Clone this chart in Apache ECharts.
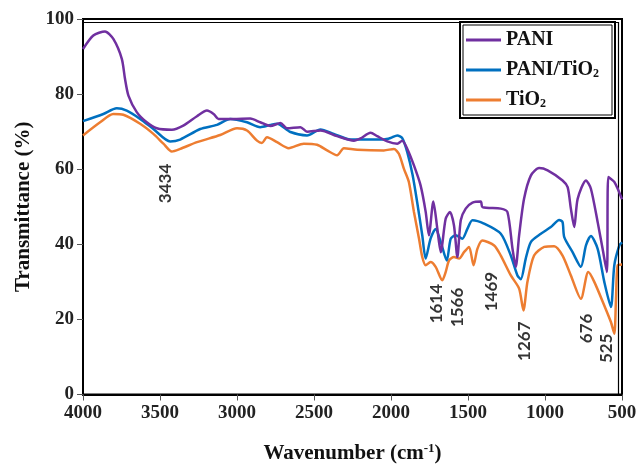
<!DOCTYPE html>
<html>
<head>
<meta charset="utf-8">
<script src="https://cdn.jsdelivr.net/npm/echarts@6/dist/echarts.min.js"></script>
<style>
  html, body { margin: 0; padding: 0; background: #fff; }
  #chart { width: 644px; height: 469px; }
</style>
</head>
<body>
<div id="chart"></div>
<script>
// FTIR spectra: [wavenumber (cm-1), transmittance (%)]
const pani = [
  [4000, 92.0], [3933, 95.6], [3857, 96.7], [3803, 94.7], [3748, 89.4], [3727, 84.0],
  [3705, 79.6], [3651, 75.2], [3586, 72.5], [3521, 70.9], [3423, 70.5], [3349, 71.6],
  [3260, 74.1], [3195, 75.6], [3152, 74.7], [3120, 73.4], [3022, 73.4], [2914, 73.5],
  [2849, 72.5], [2783, 71.5], [2718, 72.3], [2675, 70.9], [2588, 71.2], [2545, 70.0],
  [2458, 70.3], [2350, 68.8], [2241, 67.6], [2198, 68.2], [2133, 69.7], [2090, 68.8],
  [2024, 67.4], [1959, 66.8], [1927, 67.6], [1894, 65.4], [1851, 61.0], [1808, 55.7],
  [1775, 48.7], [1754, 42.4], [1725, 51.4], [1699, 44.1], [1677, 37.9], [1645, 46.8],
  [1617, 48.6], [1591, 45.0], [1569, 36.6], [1547, 46.4], [1515, 49.5], [1471, 51.1],
  [1417, 51.4], [1406, 49.9], [1287, 49.5], [1244, 48.6], [1211, 38.8], [1190, 34.0],
  [1168, 42.4], [1136, 52.1], [1092, 58.3], [1038, 60.3], [983, 59.7], [886, 57.0],
  [853, 55.2], [832, 49.5], [810, 44.6], [788, 52.1], [734, 57.0], [702, 54.8],
  [658, 45.9], [626, 38.8], [598, 32.6], [589, 57.9], [550, 56.6], [500, 52.0]
];
const paniTiO2 = [
  [4000, 72.8], [3868, 74.7], [3781, 76.2], [3716, 75.6], [3629, 73.4], [3543, 70.7],
  [3434, 67.4], [3369, 67.9], [3239, 70.7], [3130, 71.8], [3044, 73.4], [2935, 72.5],
  [2849, 71.2], [2783, 71.8], [2740, 72.1], [2653, 69.9], [2545, 69.0], [2458, 70.6],
  [2372, 69.4], [2263, 67.9], [2154, 67.9], [2046, 67.9], [2003, 68.3], [1959, 69.0],
  [1927, 68.3], [1894, 64.5], [1860, 58.5], [1830, 51.2], [1797, 42.4], [1775, 36.2],
  [1743, 41.5], [1710, 44.1], [1677, 40.6], [1638, 35.7], [1612, 41.5], [1580, 42.4],
  [1537, 41.5], [1504, 44.1], [1471, 46.4], [1396, 45.5], [1287, 42.8], [1222, 37.0],
  [1179, 31.7], [1157, 30.7], [1125, 36.2], [1092, 40.6], [1027, 42.8], [962, 44.6],
  [908, 46.5], [886, 45.9], [875, 41.9], [821, 37.9], [767, 34.0], [734, 39.7],
  [702, 42.2], [658, 38.8], [615, 30.0], [572, 23.3], [550, 34.4], [517, 39.7],
  [500, 40.5]
];
const tiO2 = [
  [4000, 69.0], [3889, 72.5], [3803, 74.7], [3738, 74.5], [3629, 72.1], [3543, 69.4],
  [3478, 66.8], [3423, 64.7], [3369, 65.4], [3260, 67.2], [3109, 69.1], [3000, 70.9],
  [2935, 70.3], [2870, 67.6], [2838, 67.0], [2805, 68.5], [2740, 67.2], [2664, 65.6],
  [2567, 66.8], [2480, 66.5], [2415, 65.0], [2350, 63.7], [2306, 65.6], [2219, 65.2],
  [2046, 65.0], [1981, 65.4], [1949, 64.1], [1916, 60.1], [1884, 56.6], [1851, 48.6],
  [1818, 41.5], [1797, 36.6], [1775, 34.4], [1743, 35.3], [1710, 34.0], [1667, 30.4],
  [1645, 32.6], [1623, 35.7], [1591, 36.6], [1558, 36.2], [1526, 37.9], [1493, 39.3],
  [1464, 34.4], [1439, 38.8], [1406, 41.0], [1330, 39.7], [1287, 37.0], [1222, 31.7],
  [1168, 28.2], [1140, 22.4], [1114, 30.0], [1071, 37.0], [1005, 39.3], [940, 39.5],
  [886, 37.0], [832, 31.7], [767, 25.5], [719, 32.6], [680, 30.0], [615, 23.7],
  [572, 19.3], [550, 16.2], [539, 25.5], [528, 34.4], [500, 34.6]
];

// Band assignments written beside the troughs (text, anchor in data space)
const bandLabels = ['3434', '1614', '1566', '1469', '1267', '676', '525'];
const bandAnchors = [
  [3467, 56.2], [1704, 24.2], [1570, 23.2], [1346, 27.4], [1131, 14.2], [728, 17.6], [601, 12.3]
];

const seriesNames = ['PANI', 'PANI/TiO2', 'TiO2'];
const seriesColors = ['#7030A0', '#0070C0', '#ED7D31'];
const seriesData = [pani, paniTiO2, tiO2];

const serif = '"Liberation Serif", "Times New Roman", serif';

const chart = echarts.init(document.getElementById('chart'), null, { renderer: 'canvas' });

const lineSeries = seriesNames.map((name, i) => ({
  name: name,
  type: 'line',
  data: seriesData[i],
  smooth: 0.25,
  showSymbol: false,
  symbol: 'none',
  lineStyle: { color: seriesColors[i], width: 2.5 },
  itemStyle: { color: seriesColors[i] },
  z: 5 - i
}));

const labelSeries = {
  type: 'scatter',
  symbolSize: 0,
  silent: true,
  data: bandLabels.map((t, i) => ({ name: t, value: bandAnchors[i] })),
  label: {
    show: true,
    position: 'inside',
    rotate: 90,
    formatter: p => p.name,
    color: '#000',
    fontFamily: 'Lato, "Open Sans", sans-serif',
    fontWeight: 'bold',
    fontSize: 17
  },
  z: 10
};

function subRich(size) {
  return {
    a: { fontFamily: serif, fontWeight: 'bold', fontSize: size, color: '#111' },
    s: { fontFamily: serif, fontWeight: 'bold', fontSize: Math.round(size * 0.62), color: '#111', padding: [8, 0, 0, 0] },
    sup: { fontFamily: serif, fontWeight: 'bold', fontSize: Math.round(size * 0.62), color: '#111', padding: [0, 0, 9, 0] }
  };
}

chart.setOption({
  animation: false,
  backgroundColor: '#fff',
  grid: { left: 83, right: 22, top: 19, bottom: 73, show: true, borderColor: '#000', borderWidth: 2 },
  legend: {
    data: seriesNames,
    orient: 'vertical',
    left: 462,
    top: 26,
    itemWidth: 35,
    itemHeight: 3,
    itemGap: 10,
    icon: 'rect',
    padding: [4, 4, 4, 4],
    formatter: n => n.replace(/TiO2/, '{a|TiO}{s|2}').replace(/^PANI(?!\/)/, '{a|PANI}').replace(/^PANI\//, '{a|PANI/}'),
    textStyle: { fontFamily: serif, fontWeight: 'bold', fontSize: 20, color: '#111', lineHeight: 20, rich: subRich(20) }
  },
  xAxis: {
    type: 'value',
    inverse: true,
    min: 500,
    max: 4000,
    interval: 500,
    name: '{a|Wavenumber (cm}{sup|-1}{a|)}',
    nameLocation: 'middle',
    nameGap: 48,
    nameTextStyle: { rich: subRich(21) },
    axisLine: { show: true, lineStyle: { color: '#000', width: 2 } },
    axisTick: { show: true, inside: false, length: 6, lineStyle: { color: '#555', width: 1 } },
    axisLabel: { fontFamily: serif, fontWeight: 'bold', fontSize: 19, color: '#222', margin: 9, formatter: v => String(v) },
    splitLine: { show: false }
  },
  yAxis: {
    type: 'value',
    min: 0,
    max: 100,
    interval: 20,
    name: 'Transmittance (%)',
    nameLocation: 'middle',
    nameGap: 49,
    nameTextStyle: { fontFamily: serif, fontWeight: 'bold', fontSize: 21, color: '#111' },
    axisLine: { show: true, lineStyle: { color: '#000', width: 2 } },
    axisTick: { show: true, inside: false, length: 6, lineStyle: { color: '#555', width: 1 } },
    axisLabel: { fontFamily: serif, fontWeight: 'bold', fontSize: 19, color: '#222', margin: 9, formatter: v => String(v) },
    splitLine: { show: false }
  },
  graphic: [
    // inner rule of the double frame along the top and right edges
    { type: 'polyline', shape: { points: [[84, 22.5], [618.5, 22.5], [618.5, 394]] },
      style: { stroke: '#000', lineWidth: 1.2, fill: null }, silent: true, z: 5 },
    // legend box, double rule
    { type: 'rect', shape: { x: 460, y: 22, width: 155, height: 96 },
      style: { stroke: '#000', lineWidth: 2, fill: '#fff' }, silent: true, z: 1 },
    { type: 'rect', shape: { x: 463, y: 25, width: 149, height: 90 },
      style: { stroke: '#000', lineWidth: 1, fill: null }, silent: true, z: 1 }
  ],
  series: lineSeries.concat([labelSeries])
});
</script>
</body>
</html>
